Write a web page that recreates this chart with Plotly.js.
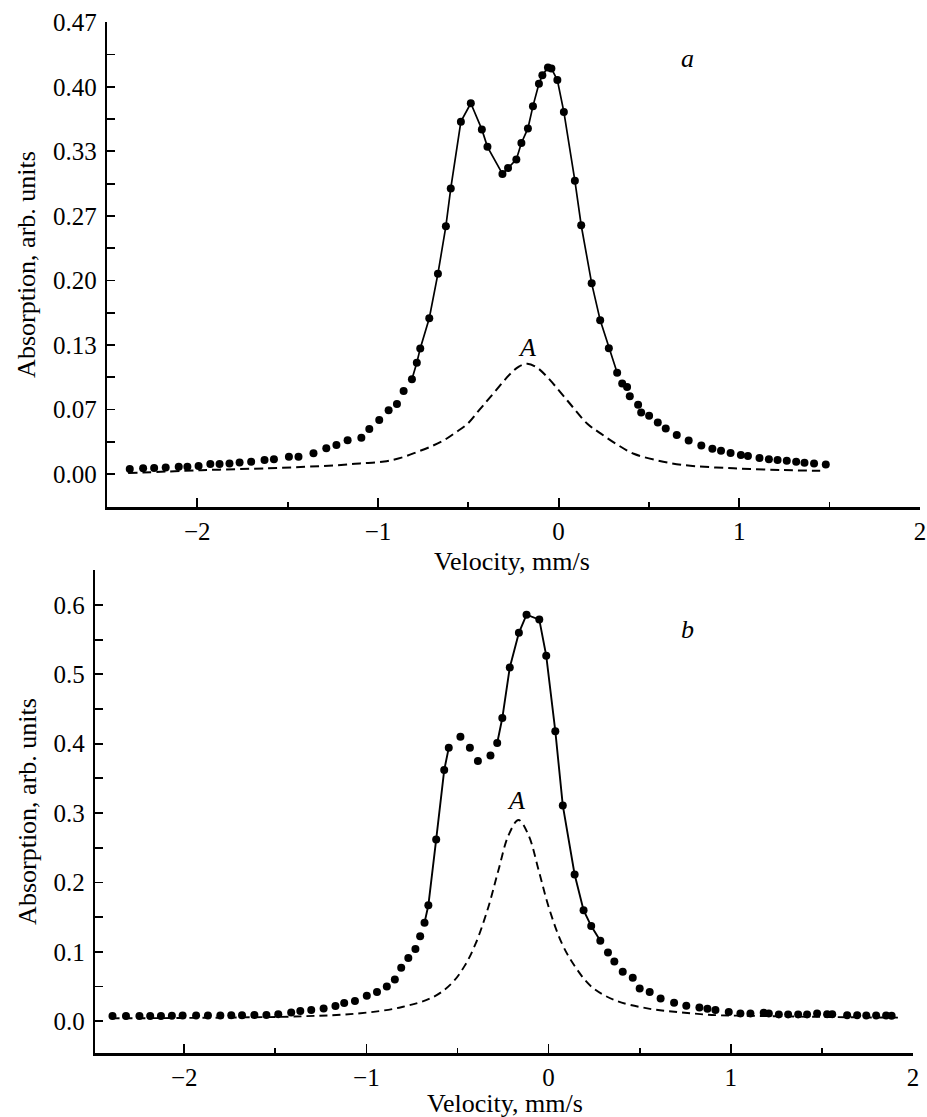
<!DOCTYPE html>
<html><head><meta charset="utf-8">
<script src="https://cdn.plot.ly/plotly-3.0.1.min.js"></script>
<style>html,body{margin:0;padding:0;background:#fff}</style>
</head><body><div id="chart" style="width:927px;height:1117px"></div>
<script>
// ---- Panel a: measured spectrum (dots) ----
const velA = [-2.374,-2.300,-2.239,-2.175,-2.103,-2.055,-1.993,-1.928,-1.877,-1.822,-1.766,-1.702,-1.628,-1.576,-1.493,-1.440,-1.357,-1.286,-1.230,-1.168,-1.092,-1.048,-0.993,-0.941,-0.895,-0.858,-0.812,-0.785,-0.766,-0.716,-0.668,-0.624,-0.597,-0.541,-0.486,-0.425,-0.394,-0.311,-0.280,-0.234,-0.206,-0.170,-0.142,-0.109,-0.090,-0.059,-0.040,-0.007,0.029,0.090,0.125,0.183,0.230,0.278,0.324,0.352,0.379,0.394,0.440,0.457,0.501,0.549,0.593,0.654,0.720,0.790,0.851,0.899,0.952,1.009,1.048,1.112,1.164,1.212,1.263,1.315,1.361,1.414,1.479];
const absA = [0.0052,0.0059,0.0062,0.0069,0.0076,0.0076,0.0083,0.0103,0.0103,0.0110,0.0120,0.0127,0.0145,0.0152,0.0179,0.0179,0.0214,0.0268,0.0300,0.0350,0.0375,0.0465,0.0558,0.0660,0.0723,0.0857,0.0980,0.1150,0.1298,0.1610,0.2070,0.2560,0.2950,0.3640,0.3830,0.3560,0.3380,0.3100,0.3160,0.3250,0.3420,0.3570,0.3800,0.4030,0.4120,0.4200,0.4190,0.4070,0.3740,0.3030,0.2570,0.1970,0.1590,0.1300,0.1046,0.0936,0.0900,0.0805,0.0716,0.0637,0.0602,0.0533,0.0471,0.0403,0.0348,0.0296,0.0261,0.0241,0.0217,0.0196,0.0186,0.0165,0.0152,0.0145,0.0137,0.0127,0.0117,0.0110,0.0100];
// velocity span covered by the solid line in panel a
const lineSpanA = [-0.82, 0.33];
// ---- Panel a: component A (dashed) ----
const velCompA = [-2.383,-1.978,-1.610,-1.400,-1.240,-1.100,-0.965,-0.870,-0.781,-0.700,-0.634,-0.570,-0.504,-0.440,-0.376,-0.265,-0.220,-0.173,-0.120,-0.062,0.048,0.159,0.232,0.320,0.416,0.550,0.692,0.969,1.245,1.448];
const absCompA = [0.001,0.004,0.006,0.0075,0.009,0.011,0.013,0.017,0.023,0.029,0.035,0.043,0.052,0.066,0.080,0.104,0.111,0.114,0.110,0.100,0.076,0.052,0.042,0.031,0.021,0.014,0.0093,0.0059,0.0041,0.0034];

// ---- Panel b: measured spectrum (dots) ----
const velB = [-2.394,-2.320,-2.246,-2.187,-2.128,-2.068,-2.009,-1.935,-1.870,-1.802,-1.742,-1.683,-1.615,-1.549,-1.484,-1.413,-1.363,-1.303,-1.235,-1.170,-1.122,-1.063,-0.998,-0.942,-0.888,-0.844,-0.809,-0.770,-0.731,-0.705,-0.681,-0.660,-0.617,-0.573,-0.548,-0.484,-0.432,-0.388,-0.319,-0.282,-0.254,-0.213,-0.163,-0.121,-0.051,-0.013,0.037,0.078,0.143,0.192,0.234,0.284,0.326,0.361,0.407,0.462,0.500,0.555,0.615,0.689,0.756,0.828,0.872,0.916,0.989,1.053,1.108,1.181,1.209,1.264,1.315,1.370,1.419,1.474,1.529,1.557,1.639,1.694,1.744,1.798,1.853,1.883];
const absB = [0.0072,0.0072,0.0075,0.0075,0.0075,0.0078,0.0080,0.0082,0.0082,0.0082,0.0085,0.0085,0.0088,0.0088,0.0100,0.0125,0.0144,0.0159,0.0183,0.0216,0.0260,0.0290,0.0365,0.0420,0.0500,0.0600,0.0770,0.0910,0.1040,0.1225,0.1420,0.1670,0.2620,0.3620,0.3940,0.4100,0.3940,0.3750,0.3830,0.4010,0.4370,0.5100,0.5600,0.5860,0.5790,0.5270,0.4180,0.3110,0.2115,0.1600,0.1370,0.1158,0.0990,0.0860,0.0710,0.0625,0.0470,0.0420,0.0327,0.0264,0.0220,0.0197,0.0178,0.0159,0.0130,0.0110,0.0110,0.0120,0.0110,0.0096,0.0096,0.0096,0.0096,0.0110,0.0100,0.0100,0.0086,0.0086,0.0082,0.0082,0.0082,0.0077];
// velocity spans covered by the solid line in panel b (gap over the dip)
const lineSpansB = [[-0.69, -0.54], [-0.29, 0.29]];
// ---- Panel b: component A (dashed) ----
const velCompB = [-2.400,-1.800,-1.342,-1.046,-0.809,-0.631,-0.530,-0.460,-0.400,-0.330,-0.275,-0.220,-0.165,-0.110,-0.055,0.000,0.073,0.147,0.238,0.366,0.549,0.732,0.916,1.099,1.500,1.920];
const absCompB = [0.004,0.005,0.007,0.011,0.020,0.035,0.055,0.080,0.112,0.165,0.218,0.268,0.290,0.268,0.218,0.165,0.112,0.078,0.049,0.030,0.018,0.0125,0.0086,0.0077,0.006,0.005];

// tick labels of panel a (ticks at multiples of 1/15)
const yTicksA = ['0.00','0.07','0.13','0.20','0.27','0.33','0.40','0.47'];
const xTitle = 'Velocity, mm/s';
const yTitle = 'Absorption, arb. units';

function inSpans(v, spans){ return spans.some(s => v >= s[0] && v <= s[1]); }
function lineData(xs, ys, spans){
  const X = [], Y = [];
  let prevIn = false;
  xs.forEach((v, i) => {
    const ok = inSpans(v, spans);
    if (ok) { X.push(v); Y.push(ys[i]); }
    else if (prevIn) { X.push(null); Y.push(null); }
    prevIn = ok;
  });
  return {X, Y};
}

const serif = 'Liberation Serif';
const la = lineData(velA, absA, [lineSpanA]);
const lb = lineData(velB, absB, lineSpansB);

const traces = [
  {x: la.X, y: la.Y, mode: 'lines', line: {color: '#000', width: 1.7}, connectgaps: false, xaxis: 'x', yaxis: 'y', hoverinfo: 'skip'},
  {x: velA, y: absA, mode: 'markers', marker: {color: '#000', size: 8}, xaxis: 'x', yaxis: 'y'},
  {x: velCompA, y: absCompA, mode: 'lines', line: {color: '#000', width: 2, dash: '9px,5px', shape: 'spline'}, xaxis: 'x', yaxis: 'y'},
  {x: lb.X, y: lb.Y, mode: 'lines', line: {color: '#000', width: 1.9}, connectgaps: false, xaxis: 'x2', yaxis: 'y2', hoverinfo: 'skip'},
  {x: velB, y: absB, mode: 'markers', marker: {color: '#000', size: 8}, xaxis: 'x2', yaxis: 'y2'},
  {x: velCompB, y: absCompB, mode: 'lines', line: {color: '#000', width: 1.9, dash: '8px,5px', shape: 'spline'}, xaxis: 'x2', yaxis: 'y2'}
];

const W = 927, H = 1117;
const tickFont = {family: serif, size: 25, color: '#000'};
const titleFont = {family: serif, size: 26, color: '#000'};

function xAxis(domainPx, range, anchor){
  return {
    domain: [domainPx[0]/W, domainPx[1]/W], range: range, anchor: anchor,
    showline: true, linewidth: 2.8, linecolor: '#000', showgrid: false, zeroline: false,
    ticks: 'inside', ticklen: 9, tickwidth: 1.8, tickcolor: '#000',
    tickmode: 'linear', tick0: 0, dtick: 1,
    minor: {tickmode: 'linear', tick0: 0, dtick: 0.5, ticks: 'inside', ticklen: 5, tickwidth: 1.8, tickcolor: '#000'},
    tickfont: tickFont, ticklabelstandoff: 0
  };
}

const minorA = [];
for (let k = 0; k <= 14; k++) minorA.push(k/30);
const majorA = yTicksA.map((t, k) => k/15);

const layout = {
  width: W, height: H, margin: {l: 0, r: 0, t: 0, b: 0},
  paper_bgcolor: '#fff', plot_bgcolor: '#fff', showlegend: false,
  font: {family: serif, size: 25, color: '#000'},
  xaxis: xAxis([107, 920], [-2.5, 2.0005], 'y'),
  yaxis: {
    domain: [(H-507)/H, (H-22)/H], range: [-0.034, 0.4669], anchor: 'x',
    showline: true, linewidth: 2.2, linecolor: '#000', showgrid: false, zeroline: false,
    ticks: 'inside', ticklen: 8, tickwidth: 1.8, tickcolor: '#000',
    tickmode: 'array', tickvals: majorA, ticktext: yTicksA,
    minor: {tickmode: 'array', tickvals: minorA, ticks: 'inside', ticklen: 8, tickwidth: 1.8, tickcolor: '#000'},
    tickfont: tickFont, ticklabelstandoff: 3,
    title: {text: yTitle, font: titleFont, standoff: 10}
  },
  xaxis2: xAxis([95, 913], [-2.49, 2.0005], 'y2'),
  yaxis2: {
    domain: [(H-1053)/H, (H-570)/H], range: [-0.046, 0.6505], anchor: 'x2',
    showline: true, linewidth: 2.2, linecolor: '#000', showgrid: false, zeroline: false,
    ticks: 'inside', ticklen: 8, tickwidth: 1.8, tickcolor: '#000',
    tickmode: 'linear', tick0: 0, dtick: 0.1, tickformat: '.1f',
    minor: {tickmode: 'linear', tick0: 0, dtick: 0.05, ticks: 'inside', ticklen: 8, tickwidth: 1.8, tickcolor: '#000'},
    tickfont: tickFont, ticklabelstandoff: 3,
    title: {text: yTitle, font: titleFont, standoff: 10}
  },
  annotations: [
    {xref: 'paper', yref: 'paper', x: 512/W, y: 1 - 561/H, xanchor: 'center', yanchor: 'middle', text: xTitle, showarrow: false, font: titleFont},
    {xref: 'paper', yref: 'paper', x: 505/W, y: 1 - 1103/H, xanchor: 'center', yanchor: 'middle', text: xTitle, showarrow: false, font: titleFont},
    {xref: 'x', yref: 'y', x: 0.713, y: 0.4295, text: '<i>a</i>', showarrow: false, font: titleFont},
    {xref: 'x', yref: 'y', x: -0.177, y: 0.131, text: '<i>A</i>', showarrow: false, font: titleFont},
    {xref: 'x2', yref: 'y2', x: 0.764, y: 0.565, text: '<i>b</i>', showarrow: false, font: titleFont},
    {xref: 'x2', yref: 'y2', x: -0.181, y: 0.3185, text: '<i>A</i>', showarrow: false, font: titleFont}
  ]
};

Plotly.newPlot('chart', traces, layout, {displayModeBar: false, staticPlot: true});
</script>
</body></html>
